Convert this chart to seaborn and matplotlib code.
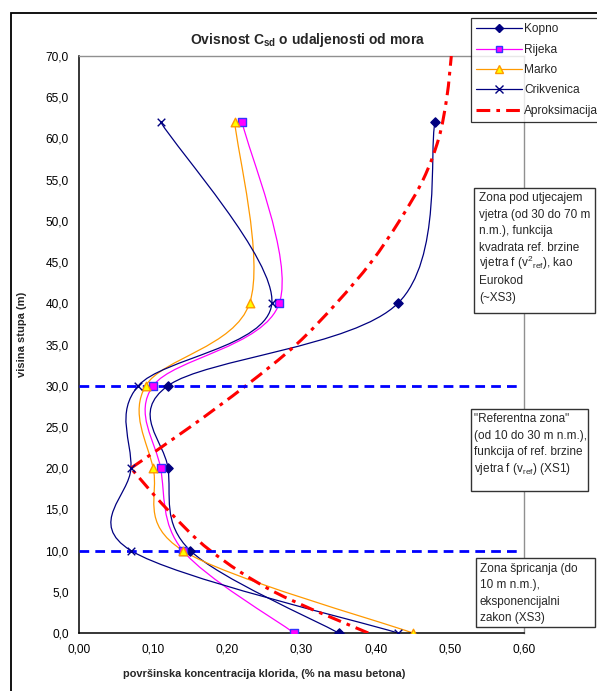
import numpy as np
import pandas as pd
import matplotlib
matplotlib.use("Agg")
import matplotlib.pyplot as plt
from matplotlib.path import Path
from matplotlib.patches import PathPatch, Rectangle
from matplotlib.lines import Line2D
import seaborn as sns

# data
visina = [0, 10, 20, 30, 40, 62]
kopno = [0.35, 0.15, 0.12, 0.12, 0.43, 0.48]
rijeka = [0.29, 0.14, 0.11, 0.10, 0.27, 0.22]
marko = [0.45, 0.14, 0.10, 0.09, 0.23, 0.21]
crikvenica = [0.43, 0.07, 0.07, 0.08, 0.26, 0.11]

# approximation, two parts (exponential below 20 m, wind above)
aprox_donja_y = [0, 5, 10, 15, 20]
aprox_donja_x = [0.39, 0.263, 0.177, 0.119, 0.07]
aprox_gornja_y = [20, 25, 30, 35, 40, 45, 50, 55, 60, 65, 70]
aprox_gornja_x = [0.07, 0.15, 0.225, 0.293, 0.347, 0.394, 0.432, 0.464, 0.485, 0.496, 0.502]

granice_zona = [10, 30]

x_ticks = [0.0, 0.1, 0.2, 0.3, 0.4, 0.5, 0.6]
y_ticks = [0, 5, 10, 15, 20, 25, 30, 35, 40, 45, 50, 55, 60, 65, 70]

sns.set_style("white")
plt.rcParams['font.family'] = ['Liberation Sans', 'DejaVu Sans']
plt.rcParams['mathtext.fontset'] = 'custom'
plt.rcParams['mathtext.rm'] = 'Liberation Sans'
plt.rcParams['mathtext.bf'] = 'Liberation Sans:bold'

W, H = 597, 691
fig = plt.figure(figsize=(W / 100, H / 100), dpi=100)
ax = fig.add_axes([79 / W, 1 - 633 / H, (524 - 79) / W, (633 - 56) / H])

df = pd.DataFrame({
    'visina': visina * 4,
    'konc': kopno + rijeka + marko + crikvenica,
    'mjesto': ['Kopno'] * 6 + ['Rijeka'] * 6 + ['Marko'] * 6 + ['Crikvenica'] * 6,
})

stil = {
    'Kopno': dict(color='#000080', marker='D', fc='#000080', ec='#000080', s=22),
    'Rijeka': dict(color='#FF00FF', marker='s', fc='#FF00FF', ec='#3333FF', s=28),
    'Marko': dict(color='#FF9900', marker='^', fc='#FFFF00', ec='#FF9900', s=38),
    'Crikvenica': dict(color='#000080', marker='x', fc='#000080', ec='#000080', s=30),
}


def smooth_path(xs, ys):
    # excel-like smoothed line through the points (bezier)
    pts = np.column_stack([xs, ys]).astype(float)
    n = len(pts)
    verts = [pts[0]]
    codes = [Path.MOVETO]
    for i in range(n - 1):
        p0 = pts[max(i - 1, 0)]
        p1 = pts[i]
        p2 = pts[i + 1]
        p3 = pts[min(i + 2, n - 1)]
        verts += [p1 + (p2 - p0) / 6, p2 - (p3 - p1) / 6, p2]
        codes += [Path.CURVE4] * 3
    return Path(verts, codes)


for ime, st in stil.items():
    d = df[df['mjesto'] == ime]
    ax.add_patch(PathPatch(smooth_path(d['konc'], d['visina']), fc='none',
                           ec=st['color'], lw=0.9, zorder=2))
    sns.scatterplot(data=d, x='konc', y='visina', ax=ax, marker=st['marker'],
                    color=st['fc'], edgecolor=st['ec'], s=st['s'],
                    linewidth=1.0, zorder=4, legend=False)

crta = (0, (4.5, 2, 1.2, 2))
for xs, ys in [(aprox_donja_x, aprox_donja_y), (aprox_gornja_x, aprox_gornja_y)]:
    ax.add_patch(PathPatch(smooth_path(xs, ys), fc='none', ec='#FF0000',
                           lw=2.2, linestyle=crta, zorder=3))

ax.hlines(granice_zona, 0, 0.592, colors='#0000FF', linestyles=(0, (3.5, 2.2)),
          lw=2.0, zorder=3)

ax.set_xlim(0, 0.6)
ax.set_ylim(0, 70)
ax.set_xticks(x_ticks)
ax.set_yticks(y_ticks)
ax.set_xticklabels([f"{v:.2f}".replace('.', ',') for v in x_ticks])
ax.set_yticklabels([f"{v:.1f}".replace('.', ',') for v in y_ticks])
ax.tick_params(direction='out', length=3, width=0.9, colors='black',
               labelsize=8.6, pad=4.5)
ax.tick_params(axis='x', pad=4.5)
ax.set_xlabel('')
ax.set_ylabel('')
for s in ['left', 'bottom']:
    ax.spines[s].set_color('black')
    ax.spines[s].set_linewidth(1.1)
for s in ['top', 'right']:
    ax.spines[s].set_color('#909090')
    ax.spines[s].set_linewidth(1.0)

fig.text(308 / W, 1 - 40 / H, r'Ovisnost C$_{\mathbf{sd}}$ o udaljenosti od mora',
         ha='center', va='center', fontsize=10, fontweight='bold')
fig.text(264 / W, 1 - 674 / H, 'površinska koncentracija klorida, (% na masu betona)',
         ha='center', va='center', fontsize=7.9, fontweight='bold')
fig.text(22 / W, 1 - 334 / H, 'visina stupa (m)', rotation=90,
         ha='center', va='center', fontsize=8, fontweight='bold')

# outer chart frame
fig.add_artist(Rectangle((11 / W, -0.1), 1.2, 1.1 - 13 / H, transform=fig.transFigure,
                         fill=False, ec='black', lw=1.3))

# legend
rucke = [
    Line2D([], [], color='#000080', lw=0.9, marker='D', ms=4.5, mfc='#000080', mec='#000080'),
    Line2D([], [], color='#FF00FF', lw=0.9, marker='s', ms=5, mfc='#FF00FF', mec='#3333FF'),
    Line2D([], [], color='#FF9900', lw=0.9, marker='^', ms=6, mfc='#FFFF00', mec='#FF9900'),
    Line2D([], [], color='#000080', lw=0.9, marker='x', ms=5.5, mec='#000080'),
    Line2D([], [], color='#FF0000', lw=2.2, linestyle=crta),
]
leg = fig.legend(rucke, ['Kopno', 'Rijeka', 'Marko', 'Crikvenica', 'Aproksimacija'],
                 loc='upper left', bbox_to_anchor=(471 / W, 1 - 18 / H),
                 fontsize=8.6, frameon=True, fancybox=False, edgecolor='black',
                 handlelength=3.8, handletextpad=0.2, labelspacing=0.7,
                 borderpad=0.45, borderaxespad=0)
leg.get_frame().set_linewidth(0.9)
leg.set_zorder(10)

# zone text boxes: (box edges px), text x, first baseline y, line pitch, lines
kutije = [
    ((474, 188, 595, 313), 479, 201, 16.6,
     ['Zona pod utjecajem', 'vjetra (od 30 do 70 m', 'n.m.), funkcija',
      'kvadrata ref. brzine',
      'vjetra f (v$\\mathregular{^2}$$\\mathregular{_{ref}}$), kao',
      'Eurokod', '(~XS3)']),
    ((471, 409, 588, 491), 474, 422, 16.6,
     ['"Referentna zona"', '(od 10 do 30 m n.m.),', 'funkcija of ref. brzine',
      'vjetra f (v$\\mathregular{_{ref}}$) (XS1)']),
    ((476, 558, 595, 627), 480, 572, 16.4,
     ['Zona špricanja (do', '10 m n.m.),', 'eksponencijalni', 'zakon (XS3)']),
]
for (x0, y0, x1, y1), tx, ty, korak, redovi in kutije:
    fig.add_artist(Rectangle((x0 / W, 1 - y1 / H), (x1 - x0) / W, (y1 - y0) / H,
                             transform=fig.transFigure, fc='white', ec='#333333',
                             lw=1.0, zorder=8))
    for i, red in enumerate(redovi):
        fig.text(tx / W, 1 - (ty + i * korak) / H, red, ha='left', va='baseline',
                 fontsize=8.5, zorder=9)

fig.savefig('out.png', dpi=100)
